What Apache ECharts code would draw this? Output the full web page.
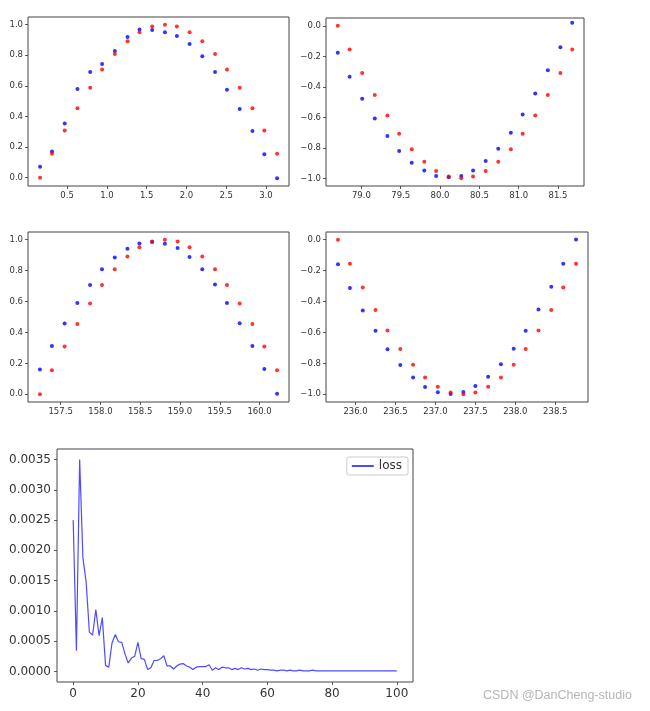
<!DOCTYPE html>
<html>
<head>
<meta charset="utf-8">
<script src="https://cdn.jsdelivr.net/npm/echarts@6/dist/echarts.min.js"></script>
<style>
  html, body { margin: 0; padding: 0; background: #fff; }
  #chart { width: 650px; height: 711px; }
</style>
</head>
<body>
<div id="chart"></div>
<script>
// x positions of the 20 samples in each window
const x1 = [0.16, 0.31, 0.47, 0.63, 0.79, 0.94, 1.10, 1.26, 1.41, 1.57, 1.73, 1.88, 2.04, 2.20, 2.36, 2.51, 2.67, 2.83, 2.98, 3.14];
const x2 = [78.70, 78.85, 79.01, 79.17, 79.33, 79.48, 79.64, 79.80, 79.95, 80.11, 80.27, 80.42, 80.58, 80.74, 80.90, 81.05, 81.21, 81.37, 81.53, 81.68];
const x3 = [157.24, 157.39, 157.55, 157.71, 157.87, 158.02, 158.18, 158.34, 158.49, 158.65, 158.81, 158.97, 159.12, 159.28, 159.44, 159.59, 159.75, 159.91, 160.06, 160.22];
const x4 = [235.78, 235.93, 236.09, 236.25, 236.40, 236.56, 236.72, 236.87, 237.03, 237.19, 237.35, 237.50, 237.66, 237.82, 237.98, 238.13, 238.29, 238.45, 238.60, 238.76];

// red = target, blue = prediction
const red1 = [0, 0.156, 0.309, 0.454, 0.588, 0.707, 0.809, 0.891, 0.951, 0.988, 1.0, 0.988, 0.951, 0.891, 0.809, 0.707, 0.588, 0.454, 0.309, 0.156];
const blue1 = [0.072, 0.172, 0.355, 0.58, 0.69, 0.743, 0.828, 0.919, 0.969, 0.965, 0.95, 0.926, 0.874, 0.793, 0.69, 0.575, 0.449, 0.305, 0.153, -0.004];
const red2 = [0, -0.156, -0.309, -0.454, -0.588, -0.707, -0.809, -0.891, -0.951, -0.988, -1.0, -0.988, -0.951, -0.891, -0.809, -0.707, -0.588, -0.454, -0.309, -0.156];
const blue2 = [-0.176, -0.334, -0.479, -0.608, -0.722, -0.82, -0.898, -0.949, -0.984, -0.993, -0.984, -0.949, -0.886, -0.806, -0.701, -0.581, -0.443, -0.292, -0.140, 0.02];
const red3 = [0, 0.156, 0.309, 0.454, 0.588, 0.707, 0.809, 0.891, 0.951, 0.988, 1.0, 0.988, 0.951, 0.891, 0.809, 0.707, 0.588, 0.454, 0.309, 0.156];
const blue3 = [0.16, 0.312, 0.458, 0.59, 0.707, 0.809, 0.885, 0.941, 0.976, 0.985, 0.974, 0.946, 0.889, 0.809, 0.711, 0.59, 0.46, 0.312, 0.163, 0.004];
const red4 = [0, -0.156, -0.309, -0.454, -0.588, -0.707, -0.809, -0.891, -0.951, -0.988, -1.0, -0.988, -0.951, -0.891, -0.809, -0.707, -0.588, -0.454, -0.309, -0.156];
const blue4 = [-0.159, -0.312, -0.458, -0.589, -0.708, -0.811, -0.892, -0.953, -0.987, -0.998, -0.985, -0.946, -0.886, -0.806, -0.705, -0.589, -0.452, -0.305, -0.155, 0.002];

// training loss per epoch (0..100)
const loss = [
  0.0025, 0.00034, 0.0035, 0.00188, 0.00148, 0.00065, 0.0006, 0.00102, 0.00059, 0.00089,
  0.0001, 0.00007, 0.00047, 0.00061, 0.00049, 0.00048, 0.00029, 0.00014, 0.00022, 0.00025,
  0.00048, 0.00021, 0.0002, 0.00003, 0.00006, 0.00018, 0.00018, 0.00021, 0.00026, 0.00009,
  0.00009, 0.00004, 0.00009, 0.00012, 0.00013, 0.00009, 0.00007, 0.00003, 0.00007, 0.00008,
  0.00008, 0.00008, 0.00011, 0.00002, 0.00006, 0.00003, 0.00007, 0.00006, 0.00006, 0.00003,
  0.00005, 0.00003, 0.00006, 0.00004, 0.00005, 0.00003, 0.00004, 0.00002, 0.00004, 0.00003,
  0.00003, 0.00002, 0.00002, 0.00001, 0.00002, 0.00002, 0.00001, 0.00002, 0.00001, 0.00001,
  0.00002, 0.00001, 0.00001, 0.00001, 0.00002, 0.00001, 0.00001, 0.00001, 0.00001, 0.00001,
  0.00001, 0.00001, 0.00001, 0.00001, 0.00001, 0.00001, 0.00001, 0.00001, 0.00001, 0.00001,
  0.00001, 0.00001, 0.00001, 0.00001, 0.00001, 0.00001, 0.00001, 0.00001, 0.00001, 0.00001,
  0.00001
];

// tick labels
const xTicks1 = [0.5, 1.0, 1.5, 2.0, 2.5, 3.0];
const xTicks2 = [79.0, 79.5, 80.0, 80.5, 81.0, 81.5];
const xTicks3 = [157.5, 158.0, 158.5, 159.0, 159.5, 160.0];
const xTicks4 = [236.0, 236.5, 237.0, 237.5, 238.0, 238.5];
const yTicksPos = [0, 0.2, 0.4, 0.6, 0.8, 1.0];
const yTicksNeg = [-1.0, -0.8, -0.6, -0.4, -0.2, 0];
const lossXTicks = [0, 20, 40, 60, 80, 100];
const lossYTicks = [0, 0.0005, 0.001, 0.0015, 0.002, 0.0025, 0.003, 0.0035];

const FONT = 'DejaVu Sans';
const txt = '#333';

function fmt(v, d) {
  const s = Math.abs(v).toFixed(d);
  return (v < -1e-12 ? '\u2212' : '') + s;
}

function pair(xs, ys) {
  return xs.map((x, i) => [x, ys[i]]);
}

function makeAxis(idx, ticks, min, max, fs, d, margin) {
  return {
    type: 'value', gridIndex: idx, min: min, max: max,
    axisLine: { show: false, onZero: false },
    splitLine: { show: false },
    axisTick: { show: true, length: 3, customValues: ticks, lineStyle: { color: txt, width: 0.8 } },
    axisLabel: { customValues: ticks, fontSize: fs, color: txt, fontFamily: FONT, margin: margin,
      formatter: v => fmt(v, d) }
  };
}

const gridStyle = { show: true, borderColor: '#444', borderWidth: 1, backgroundColor: '#fff' };

function dots(idx, data, color) {
  return {
    type: 'scatter', xAxisIndex: idx, yAxisIndex: idx, data: data,
    symbolSize: 4, itemStyle: { color: color }, silent: true
  };
}

const chart = echarts.init(document.getElementById('chart'), null, { renderer: 'canvas' });
chart.setOption({
  animation: false,
  backgroundColor: '#fff',
  grid: [
    Object.assign({ left: 28, top: 17, width: 261, height: 169 }, gridStyle),
    Object.assign({ left: 326, top: 18, width: 258, height: 168 }, gridStyle),
    Object.assign({ left: 28, top: 232, width: 261, height: 170 }, gridStyle),
    Object.assign({ left: 326, top: 232, width: 262, height: 170 }, gridStyle),
    Object.assign({ left: 57, top: 449, width: 356, height: 233 }, gridStyle)
  ],
  xAxis: [
    makeAxis(0, xTicks1, 0.008, 3.29, 8.5, 1, 5),
    makeAxis(1, xTicks2, 78.55, 81.83, 8.5, 1, 5),
    makeAxis(2, xTicks3, 157.09, 160.37, 8.5, 1, 5),
    makeAxis(3, xTicks4, 235.63, 238.91, 8.5, 1, 5),
    makeAxis(4, lossXTicks, -5, 105, 12, 0, 6)
  ],
  yAxis: [
    makeAxis(0, yTicksPos, -0.054, 1.05, 8.5, 1, 5),
    makeAxis(1, yTicksNeg, -1.05, 0.051, 8.5, 1, 5),
    makeAxis(2, yTicksPos, -0.05, 1.05, 8.5, 1, 5),
    makeAxis(3, yTicksNeg, -1.05, 0.05, 8.5, 1, 5),
    makeAxis(4, lossYTicks, -0.000175, 0.003675, 12, 4, 6)
  ],
  legend: {
    data: ['loss'],
    right: 650 - 408, top: 457,
    orient: 'vertical',
    itemWidth: 22, itemHeight: 2, itemGap: 0,
    padding: [3, 6, 3, 5],
    borderColor: '#ccc', borderWidth: 1, borderRadius: 2,
    backgroundColor: '#fff',
    textStyle: { fontSize: 12, color: txt, fontFamily: FONT },
    icon: 'rect'
  },
  series: [
    dots(0, pair(x1, blue1), '#0000ff'),
    dots(0, pair(x1, red1), '#ff0000'),
    dots(1, pair(x2, blue2), '#0000ff'),
    dots(1, pair(x2, red2), '#ff0000'),
    dots(2, pair(x3, blue3), '#0000ff'),
    dots(2, pair(x3, red3), '#ff0000'),
    dots(3, pair(x4, blue4), '#0000ff'),
    dots(3, pair(x4, red4), '#ff0000'),
    {
      name: 'loss', type: 'line', xAxisIndex: 4, yAxisIndex: 4,
      data: loss.map((v, i) => [i, v]),
      showSymbol: false, symbol: 'none',
      lineStyle: { color: 'rgba(0,0,255,0.7)', width: 1.2 },
      itemStyle: { color: 'rgba(0,0,255,0.7)' }
    }
  ],
  graphic: [{
    type: 'text', left: 483, top: 689,
    style: { text: 'CSDN @DanCheng-studio', fontSize: 12.5, fill: '#b5b5b5', fontFamily: 'Liberation Sans' }
  }]
});
</script>
</body>
</html>
